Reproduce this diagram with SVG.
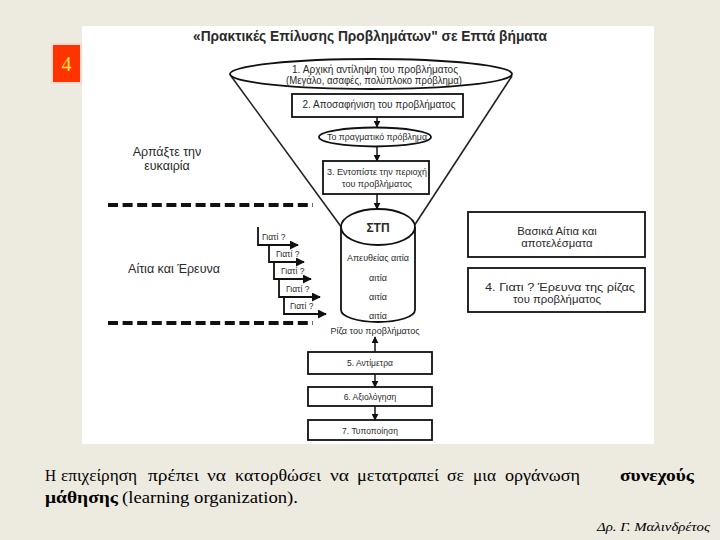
<svg xmlns="http://www.w3.org/2000/svg" width="720" height="540" viewBox="0 0 720 540">
<style>
.t{font-family:"Liberation Sans",Arial,sans-serif;fill:#2a2a2a;text-anchor:middle}
.s{font-size:10px}
.b{fill:#fff;stroke:#111;stroke-width:1.8}
.ln{stroke:#222;stroke-width:1.6;fill:none}
.dash{stroke:#111;stroke-width:4;stroke-dasharray:10 4.6}
.ser{font-family:"Liberation Serif","Times New Roman",serif;fill:#000;font-size:17px}
.w{stroke:#111;stroke-width:1.8;fill:none}
.g{font-size:8.5px;text-anchor:start}
</style>
<defs>
<marker id="ah" viewBox="0 0 10 10" refX="9" refY="5" markerWidth="7" markerHeight="7" markerUnits="userSpaceOnUse" orient="auto">
<path d="M0,0 L10,5 L0,10 z" fill="#111"/>
</marker>
<marker id="ah2" viewBox="0 0 10 10" refX="9" refY="5" markerWidth="9" markerHeight="9" markerUnits="userSpaceOnUse" orient="auto">
<path d="M0,0 L10,5 L0,10 z" fill="#111"/>
</marker>
</defs>
<rect width="720" height="540" fill="#EDEAE0"/>
<rect x="82" y="26" width="572" height="418" fill="#fff"/>
<g id="slide-number">
<rect x="51" y="43" width="31" height="41" fill="#F6D8CC"/>
<rect x="53" y="45" width="27" height="37" fill="#FF3300"/>
<text x="66.5" y="71" font-family="Liberation Serif,serif" font-size="20" fill="#FFE040" text-anchor="middle">4</text>
</g>
<text class="t" x="370" y="41" font-size="14" font-weight="bold" textLength="354" lengthAdjust="spacingAndGlyphs">«Πρακτικές Επίλυσης Προβλημάτων" σε Επτά βήματα</text>
<g id="connectors">
<line class="ln" x1="231" y1="76" x2="342" y2="228"/>
<line class="ln" x1="512" y1="76" x2="414" y2="226"/>
<line class="ln" x1="377" y1="117" x2="377" y2="127" marker-end="url(#ah)"/>
<line class="ln" x1="377" y1="146" x2="377" y2="161" marker-end="url(#ah)"/>
<line class="ln" x1="377" y1="194" x2="377" y2="209" marker-end="url(#ah)"/>
<line class="ln" x1="375" y1="352" x2="375" y2="337" marker-end="url(#ah)"/>
<line class="ln" x1="375" y1="374" x2="375" y2="387" marker-end="url(#ah)"/>
<line class="ln" x1="375" y1="406" x2="375" y2="420" marker-end="url(#ah)"/>
</g>
<g id="step1">
<ellipse class="b" cx="371" cy="74" rx="141" ry="15"/>
<text class="t s" x="375" y="73" textLength="166" lengthAdjust="spacingAndGlyphs">1. Αρχική αντίληψη του προβλήματος</text>
<text class="t s" x="374" y="84" textLength="176" lengthAdjust="spacingAndGlyphs">(Μεγάλο, ασαφές, πολύπλοκο πρόβλημα)</text>
</g>
<g id="step2">
<rect class="b" x="292" y="94" width="171" height="23"/>
<text class="t s" x="379" y="108" textLength="153" lengthAdjust="spacingAndGlyphs">2. Αποσαφήνιση του προβλήματος</text>
</g>
<g id="real-problem">
<ellipse class="b" cx="375" cy="137" rx="56" ry="9.5"/>
<text class="t" x="377" y="140" font-size="9" textLength="100" lengthAdjust="spacingAndGlyphs">Το πραγματικό πρόβλημα</text>
</g>
<g id="step3">
<rect class="b" x="323" y="161" width="106" height="33"/>
<text class="t" x="377" y="175" font-size="9">3. Εντοπίστε την περιοχή</text>
<text class="t" x="377" y="187" font-size="9">του προβλήματος</text>
</g>
<g id="cylinder">
<path class="b" d="M341,227 L341,310 A37,12 0 0 0 415,310 L415,227"/>
<ellipse class="b" cx="378" cy="227" rx="37" ry="18"/>
<text class="t" x="378" y="232" font-size="12" font-weight="bold">ΣΤΠ</text>
<text class="t" x="378" y="261" font-size="9">Απευθείας αιτία</text>
<text class="t" x="378" y="281" font-size="9">αιτία</text>
<text class="t" x="378" y="300" font-size="9">αιτία</text>
<text class="t" x="378" y="319" font-size="9">αιτία</text>
<text class="t" x="375" y="334" font-size="9">Ρίζα του προβλήματος</text>
</g>
<g id="left-labels">
<text class="t" x="167" y="156" font-size="12.5" fill="#444">Αρπάξτε την</text>
<text class="t" x="167" y="170" font-size="12.5" fill="#444">ευκαιρία</text>
<line class="dash" x1="108" y1="205" x2="313" y2="205"/>
<text class="t" x="174" y="273" font-size="12.5">Αίτια και Έρευνα</text>
<line class="dash" x1="108" y1="323" x2="313" y2="323"/>
</g>
<g id="whys">
<path class="w" d="M258,227 L258,245 L298,245" marker-end="url(#ah2)"/>
<path class="w" d="M269,245 L269,262 L304,262" marker-end="url(#ah2)"/>
<path class="w" d="M274,262 L274,279 L311,279" marker-end="url(#ah2)"/>
<path class="w" d="M279,279 L279,297 L320,297" marker-end="url(#ah2)"/>
<path class="w" d="M284,297 L284,314 L326,314" marker-end="url(#ah2)"/>
<text class="t g" x="262" y="240">Γιατί ?</text>
<text class="t g" x="276" y="257">Γιατί ?</text>
<text class="t g" x="281" y="274">Γιατί ?</text>
<text class="t g" x="286" y="292">Γιατί ?</text>
<text class="t g" x="290" y="309">Γιατί ?</text>
</g>
<g id="box-causes">
<rect class="b" x="468" y="212" width="177" height="45"/>
<text class="t" x="557" y="235" font-size="11.3">Βασικά Αίτια και</text>
<text class="t" x="557" y="247" font-size="11.3">αποτελέσματα</text>
</g>
<g id="step4">
<rect class="b" x="468" y="268" width="177" height="44"/>
<text class="t" x="560" y="291" font-size="11.3" textLength="150" lengthAdjust="spacingAndGlyphs">4.  Γιατι ? Έρευνα της ρίζας</text>
<text class="t" x="557" y="303" font-size="11.3">του προβλήματος</text>
</g>
<g id="step5">
<rect class="b" x="308" y="352" width="124" height="22"/>
<text class="t" x="370" y="366" font-size="8.5">5. Αντίμετρα</text>
</g>
<g id="step6">
<rect class="b" x="308" y="387" width="124" height="19"/>
<text class="t" x="370" y="400" font-size="8.5">6. Αξιολόγηση</text>
</g>
<g id="step7">
<rect class="b" x="308" y="420" width="124" height="20"/>
<text class="t" x="370" y="434" font-size="8.5">7. Τυποποίηση</text>
</g>
<g id="caption">
<text class="ser" x="45" y="481" textLength="11" lengthAdjust="spacingAndGlyphs">Η</text>
<text class="ser" x="61" y="481" textLength="76" lengthAdjust="spacingAndGlyphs">επιχείρηση</text>
<text class="ser" x="148" y="481" textLength="51" lengthAdjust="spacingAndGlyphs">πρέπει</text>
<text class="ser" x="207" y="481" textLength="19" lengthAdjust="spacingAndGlyphs">να</text>
<text class="ser" x="235" y="481" textLength="86" lengthAdjust="spacingAndGlyphs">κατορθώσει</text>
<text class="ser" x="330" y="481" textLength="19" lengthAdjust="spacingAndGlyphs">να</text>
<text class="ser" x="357" y="481" textLength="82" lengthAdjust="spacingAndGlyphs">μετατραπεί</text>
<text class="ser" x="447" y="481" textLength="17" lengthAdjust="spacingAndGlyphs">σε</text>
<text class="ser" x="473" y="481" textLength="23" lengthAdjust="spacingAndGlyphs">μια</text>
<text class="ser" x="505" y="481" textLength="75" lengthAdjust="spacingAndGlyphs">οργάνωση</text>
<text class="ser" x="620" y="481" font-weight="bold" textLength="74" lengthAdjust="spacingAndGlyphs">συνεχούς</text>
<text class="ser" x="45" y="503" font-weight="bold" textLength="73" lengthAdjust="spacingAndGlyphs">μάθησης</text>
<text class="ser" x="122" y="503" textLength="176" lengthAdjust="spacingAndGlyphs">(learning organization).</text>
<text class="ser" x="597" y="531" font-size="12" font-style="italic" textLength="113" lengthAdjust="spacingAndGlyphs" style="font-size:12px">Δρ. Γ. Μαλινδρέτος</text>
</g>
</svg>
